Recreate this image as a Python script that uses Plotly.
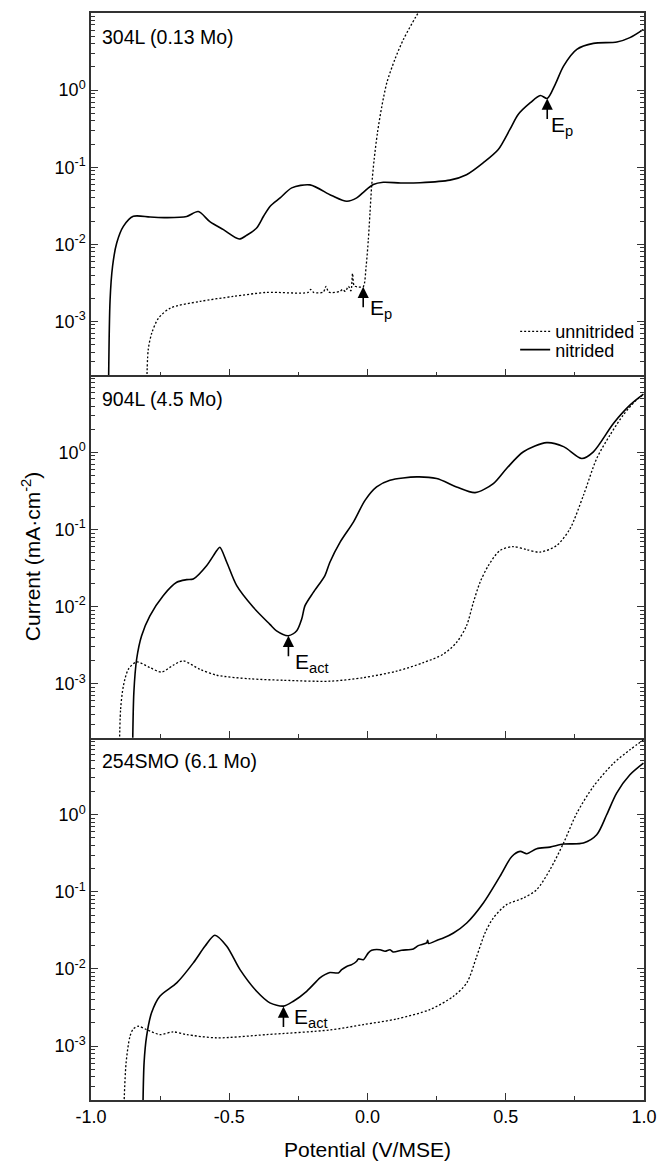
import numpy as np
import plotly.graph_objects as go
from plotly.subplots import make_subplots

# ---------------- data ----------------
# 304L (0.13 Mo)
v304_unn = [-0.799, -0.793, -0.780, -0.756, -0.713, -0.605, -0.485, -0.365, -0.215, -0.205,
            -0.195, -0.160, -0.150, -0.140, -0.100, -0.090, -0.080, -0.069, -0.060, -0.054,
            -0.048, -0.032, -0.0155, -0.005, 0.003, 0.009, 0.015, 0.024, 0.036, 0.052,
            0.070, 0.099, 0.130, 0.173, 0.184, 0.220]
i304_unn = [1e-4, 4.3e-4, 7.1e-4, 1.1e-3, 1.49e-3, 1.82e-3, 2.11e-3, 2.38e-3, 2.38e-3, 2.6e-3,
            2.38e-3, 2.4e-3, 2.85e-3, 2.4e-3, 2.45e-3, 2.6e-3, 2.45e-3, 2.85e-3, 2.5e-3, 4.2e-3,
            2.9e-3, 2.8e-3, 2.82e-3, 5.2e-3, 0.0115, 0.0256, 0.0567, 0.126, 0.28, 0.62,
            1.25, 2.5, 4.55, 8.7, 10.1, 16.0]
v304_nit = [-0.937, -0.931, -0.922, -0.907, -0.883, -0.847, -0.786, -0.726, -0.654, -0.612,
            -0.569, -0.521, -0.464, -0.437, -0.401, -0.376, -0.352, -0.316, -0.274, -0.208,
            -0.130, -0.075, -0.039, -0.015, 0.021, 0.057, 0.120, 0.190, 0.298, 0.358, 0.418, 0.473,
            0.515, 0.545, 0.589, 0.625, 0.650, 0.679, 0.709, 0.757, 0.817, 0.902, 0.949, 0.998]
i304_nit = [1e-4, 1.9e-3, 5.2e-3, 0.0104, 0.0171, 0.0231, 0.0226, 0.0222, 0.023, 0.0266,
            0.0195, 0.0155, 0.01175, 0.0131, 0.0163, 0.0231, 0.0312, 0.040, 0.054, 0.059,
            0.043, 0.0362, 0.040, 0.0473, 0.0596, 0.0638, 0.0625, 0.063, 0.068, 0.080, 0.114, 0.170,
            0.309, 0.483, 0.686, 0.853, 0.78, 1.19, 2.05, 3.38, 4.04, 4.2, 4.79, 6.14]

# 904L (4.5 Mo)
v904_unn = [-0.898, -0.893, -0.883, -0.865, -0.835, -0.787, -0.745, -0.703, -0.667, -0.606,
            -0.545, -0.425, -0.304, -0.136, -0.015, 0.106, 0.202, 0.274, 0.322, 0.358,
            0.383, 0.407, 0.437, 0.479, 0.527, 0.575, 0.624, 0.684, 0.732, 0.781,
            0.829, 0.877, 0.925, 0.973, 0.998]
i904_unn = [1e-4, 4.6e-4, 9.3e-4, 1.54e-3, 1.92e-3, 1.62e-3, 1.42e-3, 1.74e-3, 1.98e-3, 1.54e-3,
            1.29e-3, 1.16e-3, 1.11e-3, 1.08e-3, 1.2e-3, 1.46e-3, 1.88e-3, 2.42e-3, 3.43e-3, 5.64e-3,
            0.0114, 0.0207, 0.034, 0.0535, 0.060, 0.055, 0.051, 0.062, 0.102, 0.278,
            0.835, 1.68, 3.06, 4.8, 5.6]
v904_nit = [-0.850, -0.845, -0.835, -0.817, -0.787, -0.739, -0.690, -0.654, -0.630, -0.582,
            -0.545, -0.534, -0.509, -0.473, -0.413, -0.353, -0.329, -0.286, -0.256, -0.238,
            -0.226, -0.196, -0.154, -0.136, -0.099, -0.051, -0.009, 0.033, 0.081, 0.178,
            0.250, 0.322, 0.389, 0.455, 0.503, 0.564, 0.648, 0.709, 0.775, 0.817,
            0.890, 0.950, 0.998]
i904_nit = [1e-4, 7.7e-4, 2.08e-3, 4.2e-3, 7.6e-3, 0.0139, 0.0207, 0.0224, 0.0229, 0.034,
            0.0535, 0.059, 0.0377, 0.0187, 9.8e-3, 5.9e-3, 4.86e-3, 4.2e-3, 4.86e-3, 6.9e-3,
            0.0103, 0.0153, 0.0253, 0.0377, 0.0687, 0.125, 0.239, 0.357, 0.436, 0.482,
            0.458, 0.357, 0.301, 0.395, 0.619, 1.02, 1.34, 1.19, 0.835, 1.02,
            2.39, 4.13, 5.69]

# 254SMO (6.1 Mo)
v254_unn = [-0.883, -0.873, -0.859, -0.847, -0.829, -0.799, -0.751, -0.703, -0.654, -0.545,
            -0.365, -0.136, -0.015, 0.106, 0.226, 0.311, 0.359, 0.395, 0.425, 0.455,
            0.503, 0.564, 0.612, 0.660, 0.709, 0.757, 0.817, 0.890, 0.949, 0.998]
i254_unn = [1e-4, 6.1e-4, 1.34e-3, 1.67e-3, 1.81e-3, 1.64e-3, 1.41e-3, 1.53e-3, 1.41e-3, 1.28e-3,
            1.41e-3, 1.62e-3, 1.9e-3, 2.25e-3, 2.98e-3, 4.43e-3, 6.6e-3, 0.0146, 0.0293, 0.0459,
            0.0683, 0.0833, 0.107, 0.194, 0.43, 1.05, 2.33, 4.67, 6.95, 9.36]
v254_nit = [-0.813, -0.808, -0.799, -0.781, -0.751, -0.690, -0.630, -0.588, -0.552, -0.509,
            -0.461, -0.401, -0.353, -0.304, -0.268, -0.220, -0.172, -0.154, -0.136, -0.1055,
            -0.0934, -0.0753, -0.0571, -0.0391, -0.0331, -0.0151, 0.003, 0.0151, 0.0452, 0.0633,
            0.0814, 0.0934, 0.1236, 0.1657, 0.1837, 0.214, 0.2176, 0.2212, 0.2562, 0.2742,
            0.311, 0.359, 0.419, 0.479, 0.522, 0.552, 0.576, 0.612, 0.660, 0.709,
            0.781, 0.829, 0.865, 0.901, 0.949, 0.998]
i254_nit = [1e-4, 6.1e-4, 1.34e-3, 2.7e-3, 4.43e-3, 6.6e-3, 0.012, 0.0197, 0.0274, 0.0197,
            9.8e-3, 5.14e-3, 3.64e-3, 3.3e-3, 3.82e-3, 5.14e-3, 7.66e-3, 8.46e-3, 9.0e-3, 8.9e-3,
            9.8e-3, 0.0108, 0.0114, 0.0126, 0.0135, 0.0132, 0.0162, 0.0175, 0.0178, 0.0170,
            0.0178, 0.0166, 0.0175, 0.0182, 0.0201, 0.0218, 0.0236, 0.0214, 0.0240, 0.0252,
            0.0293, 0.0395, 0.0718, 0.159, 0.288, 0.335, 0.313, 0.363, 0.381, 0.417,
            0.43, 0.55, 1.0, 1.91, 3.3, 4.67]

panel_labels = ["304L (0.13 Mo)", "904L (4.5 Mo)", "254SMO (6.1 Mo)"]
series_names = ["unnitrided", "nitrided"]

# arrow tips (panel, V, I) and label positions (panel, V, I, text)
arrow_tips = [(1, -0.0155, 2.82e-3), (1, 0.650, 0.78), (2, -0.286, 4.2e-3), (3, -0.304, 3.26e-3)]
arrow_labels = [(1, 0.0007, 10 ** -2.84, "E<sub>p</sub>"), (1, 0.6575, 10 ** -0.47, "E<sub>p</sub>"),
                (2, -0.2705, 10 ** -2.73, "E<sub>act</sub>"), (3, -0.274, 10 ** -2.64, "E<sub>act</sub>")]

x_ticks = [-1.0, -0.5, 0.0, 0.5, 1.0]
x_ticktext = ["-1.0", "-0.5", "0.0", "0.5", "1.0"]
x_minor = [-0.75, -0.25, 0.25, 0.75]
y_ticks = [1e-3, 1e-2, 1e-1, 1.0]
y_ticktext = ["10<sup>-3</sup>", "10<sup>-2</sup>", "10<sup>-1</sup>", "10<sup>0</sup>"]
y_minor = [m * 10.0 ** e for e in range(-4, 1) for m in range(2, 10)]
y_min, y_max = 2e-4, 10.0

# ---------------- figure ----------------
FONT = "Liberation Sans, Arial, Helvetica, sans-serif"
AX = "#333333"
fig = make_subplots(rows=3, cols=1, shared_xaxes=True, vertical_spacing=0)

data = [(v304_unn, i304_unn, v304_nit, i304_nit),
        (v904_unn, i904_unn, v904_nit, i904_nit),
        (v254_unn, i254_unn, v254_nit, i254_nit)]
for r, (vu, iu, vn, inn) in enumerate(data, start=1):
    fig.add_trace(go.Scatter(x=vu, y=iu, mode="lines", name=series_names[0],
                             line=dict(color="black", width=1.3, dash="2px,2px", shape="spline", smoothing=0.8),
                             showlegend=(r == 1), legend="legend"), row=r, col=1)
    fig.add_trace(go.Scatter(x=vn, y=inn, mode="lines", name=series_names[1],
                             line=dict(color="black", width=1.6, shape="spline", smoothing=0.8),
                             showlegend=(r == 1), legend="legend2"), row=r, col=1)

for r in range(1, 4):
    fig.update_xaxes(range=[-1, 1], tickvals=x_ticks, ticktext=x_ticktext, automargin=False,
                     ticks="inside", ticklen=7, tickwidth=1.2, tickcolor=AX,
                     minor=dict(tickvals=x_minor, ticks="inside", ticklen=4, tickcolor=AX, tickwidth=1.2),
                     showline=True, linecolor=AX, linewidth=1.5, mirror=(r == 1),
                     showgrid=False, zeroline=False,
                     tickfont=dict(family=FONT, size=18, color="black"),
                     row=r, col=1)
    fig.update_yaxes(type="log", range=[np.log10(y_min), np.log10(y_max)], automargin=False,
                     tickvals=y_ticks, ticktext=y_ticktext,
                     ticks="inside", ticklen=7, tickwidth=1.2, tickcolor=AX,
                     minor=dict(tickvals=y_minor, ticks="inside", ticklen=4, tickcolor=AX, tickwidth=1),
                     showline=True, linecolor=AX, linewidth=1.5, mirror="ticks",
                     showgrid=False, zeroline=False,
                     tickfont=dict(family=FONT, size=18, color="black"),
                     row=r, col=1)

fig.update_xaxes(title=dict(text="Potential (V/MSE)", font=dict(family=FONT, size=21, color="black"), standoff=20),
                 row=3, col=1)
fig.update_yaxes(title=dict(text="Current (mA·cm<sup>-2</sup>)", font=dict(family=FONT, size=21, color="black"),
                            standoff=8), row=2, col=1)

# panel labels
for r, lab in enumerate(panel_labels, start=1):
    sfx = "" if r == 1 else str(r)
    fig.add_annotation(text=lab, xref=f"x{sfx} domain", yref=f"y{sfx} domain", x=0.017, y=0.935,
                       xanchor="left", yanchor="middle", showarrow=False,
                       font=dict(family=FONT, size=19.5, color="black"))

# arrows
for r, v, i in arrow_tips:
    sfx = "" if r == 1 else str(r)
    fig.add_annotation(x=v, y=np.log10(i), xref=f"x{sfx}", yref=f"y{sfx}", text="",
                       showarrow=True, ax=0, ay=22, arrowhead=2, arrowsize=1.4, arrowwidth=1.6,
                       arrowcolor="black", standoff=0, startstandoff=0)
for r, v, i, t in arrow_labels:
    sfx = "" if r == 1 else str(r)
    fig.add_annotation(x=v, y=np.log10(i), xref=f"x{sfx}", yref=f"y{sfx}", text=t,
                       showarrow=False, xanchor="left", yanchor="middle",
                       font=dict(family=FONT, size=21, color="black"))

leg_common = dict(xanchor="left", yanchor="middle", bgcolor="rgba(0,0,0,0)",
                  font=dict(family=FONT, size=18, color="black"), itemwidth=30)
fig.update_layout(
    width=659, height=1161,
    margin=dict(l=91, r=15, t=13, b=61),
    paper_bgcolor="white", plot_bgcolor="white",
    font=dict(family=FONT, color="black"),
    legend=dict(x=0.767, y=0.7068, **leg_common),
    legend2=dict(x=0.767, y=0.6900, **leg_common),
)

fig.write_html("out.html")
